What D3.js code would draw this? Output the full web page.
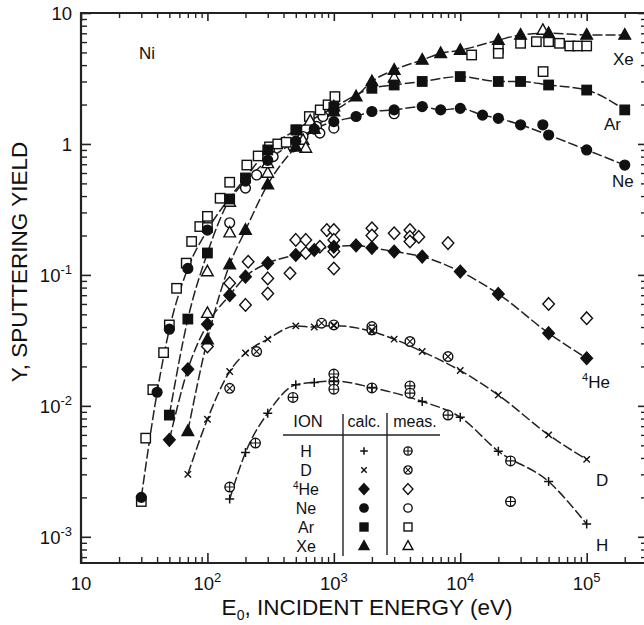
<!DOCTYPE html>
<html>
<head>
<meta charset="utf-8">
<script src="https://cdn.jsdelivr.net/npm/d3@7"></script>
<style>
  body { margin: 0; background: #fff; }
  text { font-family: "Liberation Sans", Arial, Helvetica, sans-serif; fill: #111; }
</style>
</head>
<body>
<svg id="chart" width="644" height="625"></svg>
<script>
// ---- data: [energy eV, yield] ----
const hCalc = [[150,0.00194],[200,0.0044],[300,0.0088],[500,0.0145],[700,0.0151],[1000,0.0155],[2000,0.0138],[5000,0.0108],[10000,0.0082],[20000,0.0045],[50000,0.00264],[100000,0.00125]];
const dCalc = [[70,0.003],[100,0.0079],[150,0.0183],[200,0.0253],[300,0.0323],[500,0.0408],[700,0.040],[1000,0.041],[2000,0.037],[3000,0.0323],[5000,0.026],[10000,0.0186],[20000,0.0121],[50000,0.006],[100000,0.0039]];
const heCalc = [[50,0.0055],[70,0.019],[100,0.042],[150,0.070],[200,0.097],[300,0.123],[500,0.142],[700,0.155],[1000,0.164],[1500,0.168],[2000,0.161],[3000,0.151],[5000,0.138],[10000,0.106],[20000,0.0716],[50000,0.0359],[100000,0.0231]];
const neCalc = [[30,0.002],[40,0.0127],[50,0.0385],[70,0.112],[100,0.22],[200,0.52],[300,0.75],[500,1.05],[700,1.3],[1000,1.48],[1500,1.62],[2000,1.77],[3000,1.82],[5000,1.93],[7000,1.82],[10000,1.87],[15000,1.66],[20000,1.57],[30000,1.40],[50000,1.17],[100000,0.90],[200000,0.69]];
const neCalcExtra = [[45000,1.40]];
const arCalc = [[50,0.0085],[70,0.046],[100,0.147],[150,0.38],[200,0.55],[300,0.9],[500,1.28],[1000,1.9],[2000,2.66],[3000,2.82],[5000,3.0],[10000,3.27],[20000,3.0],[30000,3.0],[50000,2.82],[100000,2.58],[200000,1.82]];
const xeCalc = [[70,0.0064],[100,0.032],[150,0.12],[200,0.22],[300,0.49],[500,0.95],[700,1.3],[1000,1.77],[1500,2.3],[2000,3.0],[3000,3.67],[5000,4.38],[7000,4.92],[10000,5.2],[20000,6.2],[30000,6.8],[50000,7.0],[100000,6.8],[200000,6.8]];

const hMeas = [[150,0.0024],[240,0.0052],[475,0.0116],[1000,0.0175],[1000,0.0153],[1000,0.0134],[2000,0.0137],[4000,0.0142],[4000,0.0125],[8000,0.0085],[25000,0.0038],[25000,0.00186]];
const dMeas = [[150,0.0136],[245,0.026],[800,0.0428],[1000,0.0415],[2000,0.0403],[2000,0.038],[4000,0.031],[8000,0.0238]];
const heMeas = [[100,0.0284],[150,0.0865],[200,0.059],[210,0.126],[300,0.072],[300,0.094],[450,0.103],[500,0.185],[600,0.185],[600,0.147],[775,0.164],[880,0.22],[1000,0.22],[1000,0.185],[1000,0.151],[1000,0.112],[2000,0.227],[2000,0.2],[3000,0.208],[4000,0.22],[4000,0.195],[4000,0.18],[4700,0.195],[8000,0.175],[50000,0.06],[100000,0.0467]];
const neMeas = [[150,0.25],[200,0.46],[245,0.58],[331,0.80],[475,0.95],[570,1.14],[730,1.36],[775,1.21],[820,1.62],[1000,1.32],[3000,1.7]];
const arMeas = [[30,0.00186],[32.5,0.00567],[37,0.0133],[45,0.0255],[50,0.0415],[57,0.079],[68,0.123],[75,0.18],[87,0.234],[100,0.28],[100,0.23],[126,0.385],[150,0.51],[205,0.69],[252,0.81],[310,0.95],[360,1.0],[420,1.03],[510,1.28],[640,1.62],[780,1.82],[900,1.99],[1020,2.3],[12300,4.78],[20000,5.37],[20000,4.92],[30000,5.87],[40000,6.04],[45200,3.57],[50000,6.04],[61000,5.87],[73500,5.6],[85000,5.6],[100000,5.6]];
const xeMeas = [[100,0.051],[100,0.106],[150,0.21],[150,0.36],[300,0.6],[300,0.71],[570,1.07],[600,0.93],[650,1.5],[1000,1.93],[3000,3.2],[45000,7.4]];

const xMajor = [10, 100, 1e3, 1e4, 1e5];
const yMajor = [10, 1, 0.1, 0.01, 0.001];

const ions = ["H", "D", "He", "Ne", "Ar", "Xe"];
const calcShapes = ["plus", "times", "diamondF", "circleF", "squareF", "triangleF"];
const measShapes = ["circlePlus", "circleTimes", "diamondO", "circleO", "squareO", "triangleO"];

// ---- setup ----
const svg = d3.select("#chart");
const x = d3.scaleLog().domain([10, 3e5]).range([81, 647]);
const y = d3.scaleLog().domain([Math.pow(10, -3.2), 10]).range([563, 13]);

function minorTicks(scale) {
  const [a, b] = scale.domain();
  const out = [];
  for (let p = Math.floor(Math.log10(a)); p <= Math.ceil(Math.log10(b)); p++) {
    for (let m = 2; m <= 9; m++) {
      const v = m * Math.pow(10, p);
      if (v > a && v < b) out.push(v);
    }
  }
  return out;
}

// Axes (ticks point inward)
function axisPair(axisFn, scale, major, minor, tMaj, tMin, transform) {
  svg.append("g").attr("transform", transform)
    .call(axisFn(scale).tickValues(minor).tickSize(tMin).tickFormat(""))
    .call(g => g.select(".domain").remove())
    .selectAll("line").attr("stroke", "#222").attr("stroke-width", 1.4);
  svg.append("g").attr("transform", transform)
    .call(axisFn(scale).tickValues(major).tickSize(tMaj).tickFormat(""))
    .call(g => g.select(".domain").remove())
    .selectAll("line").attr("stroke", "#222").attr("stroke-width", 1.6);
}
const xMin = minorTicks(x), yMin = minorTicks(y);
axisPair(d3.axisBottom, x, xMajor, xMin, -10, -6, "translate(0,563)");
axisPair(d3.axisTop, x, xMajor, xMin, -8, -5, "translate(0,13)");
axisPair(d3.axisLeft, y, yMajor, yMin, -10, -6, "translate(81,0)");
axisPair(d3.axisRight, y, yMajor, yMin, -9, -6, "translate(647,0)");

// Frame
svg.append("path")
  .attr("d", "M647,13 H81 V563 H647")
  .attr("fill", "none").attr("stroke", "#222").attr("stroke-width", 2.2);

// Tick labels with superscripts
function powLabel(t, v) {
  const e = Math.round(Math.log10(v));
  if (e === 0) { t.text("1"); return; }
  if (e === 1) { t.text("10"); return; }
  t.append("tspan").text("10");
  t.append("tspan").attr("dy", -8).attr("font-size", 13).text(e);
}
xMajor.forEach(v => {
  const t = svg.append("text").attr("x", x(v)).attr("y", 590)
    .attr("text-anchor", "middle").attr("font-size", 18.5);
  powLabel(t, v);
});
yMajor.forEach(v => {
  const t = svg.append("text").attr("x", 72).attr("y", y(v) + 7)
    .attr("text-anchor", "end").attr("font-size", 18.5);
  powLabel(t, v);
});

// Axis titles
const xt = svg.append("text").attr("x", 367).attr("y", 615)
  .attr("text-anchor", "middle").attr("font-size", 22.5);
xt.append("tspan").text("E");
xt.append("tspan").attr("dy", 5).attr("font-size", 14).text("0");
xt.append("tspan").attr("dy", -5).text(", INCIDENT ENERGY (eV)");

svg.append("text")
  .attr("transform", "translate(27,262) rotate(-90)")
  .attr("text-anchor", "middle").attr("font-size", 22.5)
  .text("Y, SPUTTERING YIELD");

svg.append("text").attr("x", 139).attr("y", 59).attr("font-size", 17).text("Ni");

// ---- markers ----
function marker(g, shape, cx, cy, k) {
  k = k || 1;
  const s = g.append("g").attr("transform", `translate(${cx},${cy})`);
  const ink = "#111";
  switch (shape) {
    case "plus":
      s.append("path").attr("d", `M${-4.5*k},0H${4.5*k}M0,${-4.5*k}V${4.5*k}`)
        .attr("stroke", ink).attr("stroke-width", 1.5); break;
    case "times":
      s.append("path").attr("d", `M${-3.2*k},${-3.2*k}L${3.2*k},${3.2*k}M${-3.2*k},${3.2*k}L${3.2*k},${-3.2*k}`)
        .attr("stroke", ink).attr("stroke-width", 1.4); break;
    case "diamondF":
    case "diamondO":
      s.append("path").attr("d", `M0,${-6.3*k}L${5.8*k},0L0,${6.3*k}L${-5.8*k},0Z`)
        .attr("fill", shape === "diamondF" ? ink : "#fff")
        .attr("stroke", ink).attr("stroke-width", 1.4); break;
    case "circleF":
    case "circleO":
      s.append("circle").attr("r", 4.9 * k)
        .attr("fill", shape === "circleF" ? ink : "#fff")
        .attr("stroke", ink).attr("stroke-width", 1.4); break;
    case "squareF":
    case "squareO":
      s.append("rect").attr("x", -4.7*k).attr("y", -4.7*k).attr("width", 9.4*k).attr("height", 9.4*k)
        .attr("fill", shape === "squareF" ? ink : "#fff")
        .attr("stroke", ink).attr("stroke-width", 1.4); break;
    case "triangleF":
    case "triangleO":
      s.append("path").attr("d", `M0,${-6.3*k}L${5.8*k},${4.2*k}L${-5.8*k},${4.2*k}Z`)
        .attr("fill", shape === "triangleF" ? ink : "#fff")
        .attr("stroke", ink).attr("stroke-width", 1.4); break;
    case "circlePlus":
    case "circleTimes":
      s.append("circle").attr("r", 4.8 * k).attr("fill", "#fff")
        .attr("stroke", ink).attr("stroke-width", 1.4);
      const r = shape === "circlePlus" ? 4.8 * k : 3.3 * k;
      s.append("path").attr("d", shape === "circlePlus"
          ? `M${-r},0H${r}M0,${-r}V${r}`
          : `M${-r},${-r}L${r},${r}M${-r},${r}L${r},${-r}`)
        .attr("stroke", ink).attr("stroke-width", 1.1);
      break;
  }
}

// ---- calculated curves ----
const line = d3.line()
  .x(d => x(d[0])).y(d => y(d[1]))
  .curve(d3.curveMonotoneX);
const calcSets = [hCalc, dCalc, heCalc, neCalc, arCalc, xeCalc];
const measSets = [hMeas, dMeas, heMeas, neMeas, arMeas, xeMeas];

const gLines = svg.append("g");
calcSets.forEach(data => {
  gLines.append("path").datum(data).attr("d", line)
    .attr("fill", "none").attr("stroke", "#222")
    .attr("stroke-width", 1.5).attr("stroke-dasharray", "10,3");
});

const gMeas = svg.append("g");
measSets.forEach((data, i) => data.forEach(d => marker(gMeas, measShapes[i], x(d[0]), y(d[1]))));
const gCalc = svg.append("g");
calcSets.forEach((data, i) => data.forEach(d => marker(gCalc, calcShapes[i], x(d[0]), y(d[1]))));
neCalcExtra.forEach(d => marker(gCalc, "circleF", x(d[0]), y(d[1])));

// Curve labels
const curveLabels = [["Xe", 613, 65], ["Ar", 604, 130], ["Ne", 612, 187], ["D", 596, 486], ["H", 596, 551]];
curveLabels.forEach(c => svg.append("text").attr("x", c[1]).attr("y", c[2]).attr("font-size", 17).text(c[0]));
const heLab = svg.append("text").attr("x", 582).attr("y", 388).attr("font-size", 17);
heLab.append("tspan").attr("font-size", 11).attr("dy", -7).text("4");
heLab.append("tspan").attr("dy", 7).text("He");

// ---- legend table ----
const lg = svg.append("g");
lg.append("text").attr("x", 308).attr("y", 427).attr("text-anchor", "middle").attr("font-size", 16.5).text("ION");
lg.append("text").attr("x", 364).attr("y", 427).attr("text-anchor", "middle").attr("font-size", 16).text("calc.");
lg.append("text").attr("x", 415).attr("y", 427).attr("text-anchor", "middle").attr("font-size", 16).text("meas.");
lg.append("line").attr("x1", 283).attr("x2", 440).attr("y1", 435).attr("y2", 435).attr("stroke", "#222").attr("stroke-width", 1.4);
lg.append("line").attr("x1", 343).attr("x2", 343).attr("y1", 414).attr("y2", 556).attr("stroke", "#222").attr("stroke-width", 1.4);
lg.append("line").attr("x1", 387).attr("x2", 387).attr("y1", 413).attr("y2", 555).attr("stroke", "#222").attr("stroke-width", 1.4);
ions.forEach((name, i) => {
  const cy = 451 + i * 19;
  const t = lg.append("text").attr("x", 306).attr("y", cy + 5.5).attr("text-anchor", "middle").attr("font-size", 16);
  if (name === "He") {
    t.append("tspan").attr("font-size", 10).attr("dy", -6).text("4");
    t.append("tspan").attr("dy", 6).text("He");
  } else {
    t.text(name);
  }
  marker(lg, calcShapes[i], 364, cy, 0.85);
  marker(lg, measShapes[i], 408, cy, 0.85);
});
</script>
</body>
</html>
